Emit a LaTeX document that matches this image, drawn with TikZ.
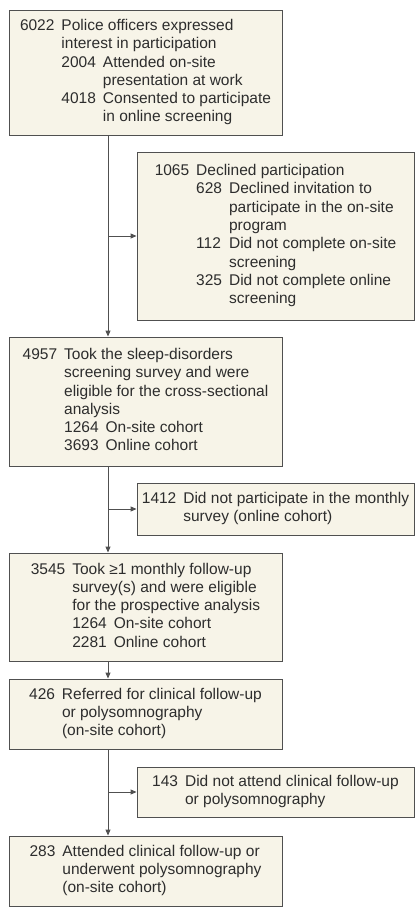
\documentclass[tikz,border=0pt]{standalone}
\usepackage{fontspec}
\setmainfont{Liberation Sans}
\usetikzlibrary{arrows.meta}
\definecolor{boxfill}{RGB}{247,244,232}
\definecolor{boxline}{RGB}{80,80,80}
\definecolor{txt}{RGB}{45,45,45}
\newcommand{\gp}{\hspace{7pt}}
\newcommand{\mc}[1]{\multicolumn{2}{@{}l@{}}{#1}}
\begin{document}
\begin{tikzpicture}[x=1pt,y=-1pt,
  fbox/.style={draw=boxline, fill=boxfill, line width=0.9pt, inner sep=0pt,
    text=txt, font=\fontsize{15.5}{18.3}\selectfont},
  mainbox/.style={fbox, minimum width=273pt},
  sidebox/.style={fbox, minimum width=277pt},
  link/.style={draw=boxline, line width=0.9pt, -{Triangle[length=6pt,width=5pt]}}]
\useasboundingbox (0,0) rectangle (417,915);

\node[mainbox, minimum height=125pt] (b1) at (145.5,72.5) {%
\begin{tabular}{@{}l@{\gp}l@{\gp}l@{}}
6022 & \mc{Police officers expressed}\\
 & \mc{interest in participation}\\
 & 2004 & Attended on-site\\
 & & presentation at work\\
 & 4018 & Consented to participate\\
 & & in online screening
\end{tabular}};

\node[sidebox, minimum height=168pt] (b2) at (275.5,236) {%
\begin{tabular}{@{}l@{\gp}l@{\gp}l@{}}
1065 & \mc{Declined participation}\\
 & 628 & Declined invitation to\\
 & & participate in the on-site\\
 & & program\\
 & 112 & Did not complete on-site\\
 & & screening\\
 & 325 & Did not complete online\\
 & & screening
\end{tabular}};

\node[mainbox, minimum height=129pt] (b3) at (145.5,401.5) {%
\begin{tabular}{@{}l@{\gp}l@{\gp}l@{}}
4957 & \mc{Took the sleep-disorders}\\
 & \mc{screening survey and were}\\
 & \mc{eligible for the cross-sectional}\\
 & \mc{analysis}\\
 & 1264 & On-site cohort\\
 & 3693 & Online cohort
\end{tabular}};

\node[sidebox, minimum height=52pt] (b4) at (275.5,509) {%
\begin{tabular}{@{}l@{\gp}l@{}}
1412 & Did not participate in the monthly\\
 & survey (online cohort)
\end{tabular}};

\node[mainbox, minimum height=108pt] (b5) at (145.5,607) {%
\begin{tabular}{@{}l@{\gp}l@{\gp}l@{}}
3545 & \mc{Took ≥1 monthly follow-up}\\
 & \mc{survey(s) and were eligible}\\
 & \mc{for the prospective analysis}\\
 & 1264 & On-site cohort\\
 & 2281 & Online cohort
\end{tabular}};

\node[mainbox, minimum height=70pt] (b6) at (145.5,714) {%
\begin{tabular}{@{}l@{\gp}l@{}}
426 & Referred for clinical follow-up\\
 & or polysomnography\\
 & (on-site cohort)
\end{tabular}};

\node[sidebox, minimum height=50pt] (b7) at (275.5,792) {%
\begin{tabular}{@{}l@{\gp}l@{}}
143 & Did not attend clinical follow-up\\
 & or polysomnography
\end{tabular}};

\node[mainbox, minimum height=70pt] (b8) at (145.5,871) {%
\begin{tabular}{@{}l@{\gp}l@{}}
283 & Attended clinical follow-up or\\
 & underwent polysomnography\\
 & (on-site cohort)
\end{tabular}};

\coordinate (sx) at (108,0);
\draw[link] (b1.south -| sx) -- (b3.north -| sx);
\draw[link] (b2.west -| sx) -- (b2.west);
\draw[link] (b3.south -| sx) -- (b5.north -| sx);
\draw[link] (b4.west -| sx) -- (b4.west);
\draw[link] (b5.south -| sx) -- (b6.north -| sx);
\draw[link] (b6.south -| sx) -- (b8.north -| sx);
\draw[link] (b7.west -| sx) -- (b7.west);
\end{tikzpicture}
\end{document}
